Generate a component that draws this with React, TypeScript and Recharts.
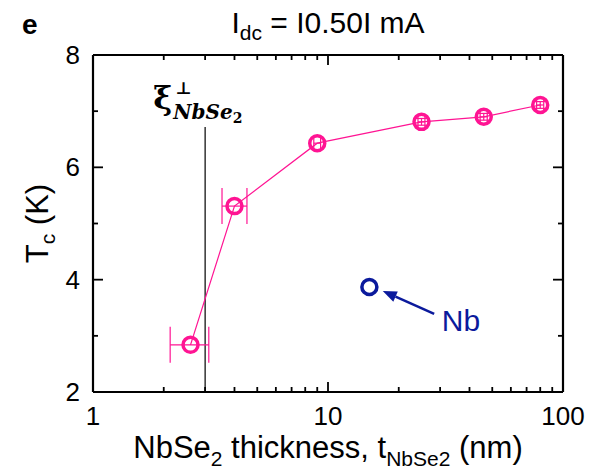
import { ComposedChart, Scatter, XAxis, YAxis, ErrorBar, ReferenceLine, ReferenceDot } from 'recharts';

document.body.style.margin = '0';

// NbSe2 series
const THICKNESS = [2.6, 4.0, 9.0, 25, 46, 80];
const TC = [2.84, 5.31, 6.43, 6.81, 6.9, 7.11];
const THICKNESS_ERR_BIG: (number[] | null)[] = [[0.47, 0.51], [0.46, 0.52], null, null, null, null];
const THICKNESS_ERR_SMALL: (number | null)[] = [null, null, 0.3, 0.85, 1.6, 2.8];
const TC_ERR: (number | null)[] = [null, null, null, 0.06, 0.06, 0.06];

// Nb reference point
const NB_THICKNESS = [15];
const NB_TC = [3.87];

// annotations
const XI_THICKNESS = 3;
const XI_LINE_TOP = 6.72;
const XI_LABEL_POS = { t: 1.84, tc: 7.06 };
const NB_ARROW = [{ t: 28.3, tc: 3.39 }, { t: 17.1, tc: 3.8 }];
const NB_LABEL_POS = { t: 36.8, tc: 3.28 };

// axes
const X_DOMAIN = [1, 100];
const Y_DOMAIN = [2, 8];
const X_TICKS = [1, 2, 3, 4, 5, 6, 7, 8, 9, 10, 20, 30, 40, 50, 60, 70, 80, 90, 100];
const X_MAJOR = [1, 10, 100];
const Y_TICKS = [2, 3, 4, 5, 6, 7, 8];
const Y_MAJOR = [2, 4, 6, 8];

const PINK = '#ff1493';
const NAVY = '#0b1a9c';
const FONT = '"Liberation Sans", Arial, sans-serif';

const data = THICKNESS.map((t, i) => ({
  t,
  tc: TC[i],
  tErrBig: THICKNESS_ERR_BIG[i] ?? undefined,
  tErrSmall: THICKNESS_ERR_SMALL[i] ?? undefined,
  tcErr: TC_ERR[i] ?? undefined,
}));
const nbData = NB_THICKNESS.map((t, i) => ({ t, tc: NB_TC[i] }));

const BottomLabel = (p: any) =>
  X_MAJOR.includes(p.payload.value) ? (
    <text x={p.x} y={p.y + 33} textAnchor="middle" fontSize={26} fontFamily={FONT} fill="#000">
      {p.payload.value}
    </text>
  ) : (
    <g />
  );

const LeftLabel = (p: any) =>
  Y_MAJOR.includes(p.payload.value) ? (
    <text x={p.x - 13} y={p.y + 9} textAnchor="end" fontSize={26} fontFamily={FONT} fill="#000">
      {p.payload.value}
    </text>
  ) : (
    <g />
  );

// inward ticks at both ends of a full-span reference line
const vTicks = (len: number) => (p: any) => {
  const x = p.x1;
  const top = Math.min(p.y1, p.y2);
  const bot = Math.max(p.y1, p.y2);
  return (
    <g stroke="#000" strokeWidth={1.8} fill="none">
      <path d={`M${x},${bot}V${bot - len}`} />
      <path d={`M${x},${top}V${top + len}`} />
    </g>
  );
};
const hTicks = (len: number) => (p: any) => {
  const y = p.y1;
  const l = Math.min(p.x1, p.x2);
  const r = Math.max(p.x1, p.x2);
  return (
    <g stroke="#000" strokeWidth={1.8} fill="none">
      <path d={`M${l},${y}H${l + len}`} />
      <path d={`M${r},${y}H${r - len}`} />
    </g>
  );
};

const Ring = (color: string) => (p: any) => (
  <circle cx={p.cx} cy={p.cy} r={7.5} fill="none" stroke={color} strokeWidth={3.5} />
);

const ArrowShape = (p: any) => {
  const { x1, y1, x2, y2 } = p;
  const ang = Math.atan2(y2 - y1, x2 - x1);
  const len = 14;
  const half = 5.5;
  const bx = x2 - len * Math.cos(ang);
  const by = y2 - len * Math.sin(ang);
  const px = -Math.sin(ang) * half;
  const py = Math.cos(ang) * half;
  return (
    <g>
      <line x1={x1} y1={y1} x2={bx} y2={by} stroke={NAVY} strokeWidth={2.5} />
      <polygon points={`${x2},${y2} ${bx + px},${by + py} ${bx - px},${by - py}`} fill={NAVY} />
    </g>
  );
};

export default function App() {
  return (
    <div style={{ width: 589, height: 471, background: '#fff' }}>
      <ComposedChart width={589} height={471} data={data} margin={{ top: 55, right: 26, left: 0, bottom: 0 }}>
        <XAxis
          dataKey="t"
          type="number"
          scale="log"
          domain={X_DOMAIN}
          allowDataOverflow
          ticks={X_TICKS}
          interval={0}
          tick={BottomLabel}
          tickLine={false}
          axisLine={false}
          tickSize={0}
          tickMargin={0}
          height={79}
          label={{
            content: (lp: any) => {
              const vb = lp.viewBox;
              return (
                <g>
                  <text x={vb.x + vb.width / 2} y={vb.y + 66} textAnchor="middle" fontSize={31} fontFamily={FONT} fill="#000">
                    NbSe<tspan fontSize={21} dy={8}>2</tspan>
                    <tspan dy={-8}> thickness, t</tspan>
                    <tspan fontSize={21} dy={8}>NbSe2</tspan>
                    <tspan dy={-8}> (nm)</tspan>
                  </text>
                  <text x={vb.x + vb.width / 2} y={33} textAnchor="middle" fontSize={30} fontFamily={FONT} fill="#000">
                    I<tspan fontSize={21} dy={7}>dc</tspan>
                    <tspan dy={-7}> = I0.50I mA</tspan>
                  </text>
                  <text x={22} y={34} fontSize={28} fontWeight="bold" fontFamily={FONT} fill="#000">e</text>
                </g>
              );
            },
          }}
        />
        <YAxis
          dataKey="tc"
          type="number"
          domain={Y_DOMAIN}
          allowDataOverflow
          ticks={Y_TICKS}
          interval={0}
          tick={LeftLabel}
          tickLine={false}
          axisLine={false}
          tickSize={0}
          tickMargin={0}
          width={93}
          label={{
            content: (lp: any) => {
              const vb = lp.viewBox;
              const cy = vb.y + vb.height / 2;
              return (
                <text transform={`translate(48, ${cy}) rotate(-90)`} textAnchor="middle" fontSize={31} fontFamily={FONT} fill="#000">
                  T<tspan fontSize={21} dy={7}>c</tspan>
                  <tspan dy={-7}> (K)</tspan>
                </text>
              );
            },
          }}
        />

        {X_TICKS.map((v) => (
          <ReferenceLine key={`xt${v}`} x={v} shape={vTicks(X_MAJOR.includes(v) ? 10 : 5)} />
        ))}
        {Y_TICKS.map((v) => (
          <ReferenceLine key={`yt${v}`} y={v} shape={hTicks(Y_MAJOR.includes(v) ? 10 : 5)} />
        ))}
        {X_DOMAIN.map((v) => (
          <ReferenceLine key={`xf${v}`} x={v} stroke="#000" strokeWidth={2.2} />
        ))}
        {Y_DOMAIN.map((v) => (
          <ReferenceLine key={`yf${v}`} y={v} stroke="#000" strokeWidth={2.2} />
        ))}

        <ReferenceLine
          segment={[{ x: XI_THICKNESS, y: Y_DOMAIN[0] }, { x: XI_THICKNESS, y: XI_LINE_TOP }]}
          stroke="#000"
          strokeWidth={1.2}
        />
        <ReferenceDot
          x={XI_LABEL_POS.t}
          y={XI_LABEL_POS.tc}
          r={0}
          label={{
            content: (lp: any) => {
              const vb = lp.viewBox;
              return (
                <g fontFamily={'"DejaVu Serif", serif'} fontWeight="bold" fill="#000">
                  <text x={vb.x - 2} y={vb.y + 1} fontSize={32}>ξ</text>
                  <text x={vb.x + 20} y={vb.y - 14} fontSize={17}>⊥</text>
                  <text x={vb.x + 18} y={vb.y + 11} fontSize={20} fontStyle="italic">
                    NbSe<tspan fontSize={14} dy={4} fontStyle="normal">2</tspan>
                  </text>
                </g>
              );
            },
          }}
        />

        <Scatter
          data={data}
          dataKey="tc"
          isAnimationActive={false}
          line={{ stroke: PINK, strokeWidth: 1.2 }}
          shape={Ring(PINK)}
        >
          <ErrorBar dataKey="tErrBig" direction="x" width={18} stroke={PINK} strokeWidth={1.2} />
          <ErrorBar dataKey="tErrSmall" direction="x" width={6} stroke={PINK} strokeWidth={1.2} />
          <ErrorBar dataKey="tcErr" direction="y" width={6} stroke={PINK} strokeWidth={1.2} />
        </Scatter>
        <Scatter data={nbData} dataKey="tc" isAnimationActive={false} shape={Ring(NAVY)} />

        <ReferenceLine segment={NB_ARROW.map((p) => ({ x: p.t, y: p.tc }))} shape={ArrowShape} />
        <ReferenceDot
          x={NB_LABEL_POS.t}
          y={NB_LABEL_POS.tc}
          r={0}
          label={{
            content: (lp: any) => {
              const vb = lp.viewBox;
              return (
                <text x={vb.x} y={vb.y + 11} textAnchor="middle" fontSize={30} fontFamily={FONT} fill={NAVY}>
                  Nb
                </text>
              );
            },
          }}
        />
      </ComposedChart>
    </div>
  );
}
